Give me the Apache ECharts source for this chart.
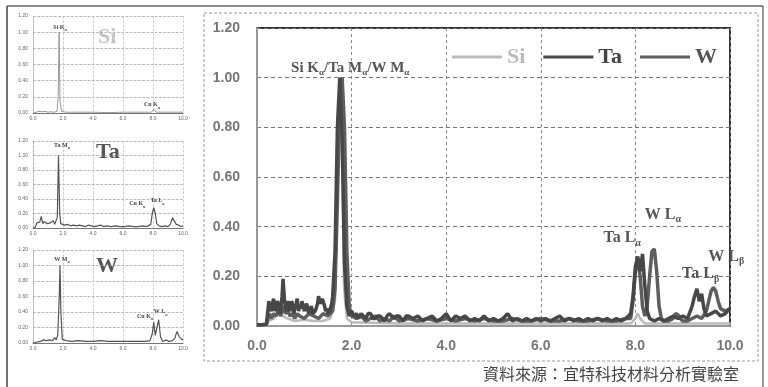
<!DOCTYPE html>
<html>
<head>
<meta charset="utf-8">
<script src="https://cdn.jsdelivr.net/npm/echarts@6/dist/echarts.min.js"></script>
<style>
html,body{margin:0;padding:0;background:#fff;}
#chart{width:768px;height:387px;}
</style>
</head>
<body>
<div id="chart"></div>
<script>
// ---------- Data (energy keV, normalised intensity) ----------
var siSmall = [[0,0],[0.2,0.01],[0.4,0.02],[0.6,0.015],[0.8,0.02],[1.0,0.01],[1.2,0.015],[1.4,0.01],[1.6,0.02],[1.68,0.2],[1.74,1.0],[1.8,0.15],[1.9,0.02],[2.2,0.01],[3,0.01],[4,0.01],[5,0.005],[6,0.01],[7,0.01],[7.9,0.01],[8.05,0.05],[8.2,0.01],[9,0.01],[10,0.01]];

var taSmall = [[0,0],[0.15,0.01],[0.25,0.07],[0.35,0.05],[0.45,0.08],[0.55,0.16],[0.65,0.06],[0.75,0.09],[0.85,0.07],[0.95,0.06],[1.05,0.05],[1.15,0.07],[1.25,0.06],[1.35,0.1],[1.45,0.05],[1.55,0.06],[1.62,0.15],[1.7,1.0],[1.78,0.2],[1.85,0.06],[1.95,0.05],[2.1,0.04],[2.3,0.05],[2.5,0.03],[2.7,0.04],[2.9,0.03],[3.1,0.04],[3.3,0.03],[3.5,0.02],[3.7,0.04],[3.9,0.03],[4.1,0.02],[4.3,0.03],[4.5,0.04],[4.7,0.02],[4.9,0.03],[5.2,0.02],[5.5,0.03],[5.8,0.02],[6.1,0.02],[6.4,0.03],[6.7,0.02],[7.0,0.02],[7.3,0.03],[7.6,0.02],[7.85,0.05],[7.95,0.2],[8.05,0.28],[8.15,0.2],[8.25,0.06],[8.4,0.03],[8.6,0.02],[8.8,0.03],[9.0,0.02],[9.15,0.05],[9.3,0.14],[9.4,0.15],[9.55,0.05],[9.7,0.04],[9.85,0.02],[10,0.03]];

var wSmall = [[0,0],[0.2,0.01],[0.3,0.03],[0.5,0.02],[0.7,0.04],[0.9,0.03],[1.1,0.04],[1.3,0.03],[1.45,0.07],[1.55,0.04],[1.65,0.1],[1.75,0.6],[1.8,1.0],[1.86,0.4],[1.95,0.05],[2.2,0.03],[2.6,0.02],[3.0,0.03],[3.5,0.02],[4.0,0.02],[4.5,0.03],[5.0,0.02],[5.5,0.02],[6.0,0.02],[6.5,0.02],[7.0,0.02],[7.5,0.02],[7.8,0.03],[7.95,0.12],[8.05,0.27],[8.15,0.1],[8.25,0.1],[8.38,0.3],[8.5,0.08],[8.65,0.02],[8.9,0.04],[9.05,0.02],[9.3,0.03],[9.45,0.06],[9.6,0.15],[9.75,0.08],[9.9,0.05],[10,0.04]];

var siMain = [[0,0.005],[0.2,0.006],[0.25,0.02],[0.35,0.03],[0.45,0.05],[0.55,0.04],[0.65,0.03],[0.8,0.02],[1.0,0.025],[1.2,0.02],[1.4,0.02],[1.55,0.03],[1.65,0.1],[1.7,0.6],[1.75,1.0],[1.8,0.7],[1.84,0.15],[1.9,0.03],[2.0,0.015],[3.0,0.01],[4.0,0.01],[5.0,0.01],[6.0,0.01],[7.0,0.01],[7.9,0.01],[8.0,0.03],[8.05,0.05],[8.1,0.03],[8.2,0.01],[9.0,0.01],[10.0,0.01]];

var taMain = [[0,0.005],[0.1,0.005],[0.2,0.008],[0.25,0.10],[0.28,0.07],[0.3,0.06],[0.33,0.09],[0.35,0.11],[0.38,0.06],[0.4,0.07],[0.43,0.10],[0.45,0.09],[0.48,0.05],[0.5,0.06],[0.53,0.12],[0.55,0.19],[0.58,0.11],[0.6,0.08],[0.63,0.06],[0.65,0.10],[0.68,0.08],[0.7,0.06],[0.73,0.10],[0.75,0.09],[0.78,0.05],[0.8,0.07],[0.83,0.09],[0.85,0.11],[0.88,0.06],[0.9,0.08],[0.93,0.07],[0.95,0.10],[0.98,0.08],[1.0,0.06],[1.03,0.08],[1.05,0.09],[1.08,0.06],[1.1,0.05],[1.13,0.07],[1.15,0.08],[1.18,0.05],[1.2,0.05],[1.23,0.06],[1.25,0.07],[1.28,0.09],[1.3,0.12],[1.33,0.10],[1.35,0.09],[1.38,0.11],[1.4,0.11],[1.43,0.08],[1.45,0.06],[1.48,0.07],[1.5,0.05],[1.53,0.06],[1.55,0.07],[1.58,0.09],[1.6,0.12],[1.65,0.30],[1.7,0.80],[1.75,1.0],[1.8,0.75],[1.85,0.25],[1.9,0.08],[1.95,0.04],[2.0,0.06],[2.05,0.04],[2.1,0.05],[2.15,0.03],[2.2,0.05],[2.25,0.04],[2.3,0.03],[2.35,0.05],[2.4,0.05],[2.45,0.03],[2.5,0.03],[2.55,0.04],[2.6,0.04],[2.7,0.02],[2.75,0.04],[2.8,0.05],[2.9,0.03],[2.95,0.04],[3.0,0.04],[3.1,0.02],[3.15,0.04],[3.2,0.04],[3.3,0.03],[3.4,0.04],[3.5,0.02],[3.6,0.03],[3.7,0.04],[3.8,0.02],[3.9,0.03],[4.0,0.05],[4.1,0.02],[4.2,0.04],[4.3,0.03],[4.4,0.04],[4.5,0.02],[4.6,0.03],[4.7,0.02],[4.8,0.04],[4.9,0.02],[5.0,0.03],[5.1,0.02],[5.2,0.03],[5.3,0.05],[5.4,0.02],[5.5,0.03],[5.6,0.02],[5.7,0.03],[5.8,0.02],[5.9,0.03],[6.0,0.02],[6.1,0.03],[6.2,0.02],[6.3,0.03],[6.4,0.04],[6.5,0.02],[6.6,0.03],[6.7,0.02],[6.8,0.03],[6.9,0.02],[7.0,0.03],[7.1,0.02],[7.2,0.03],[7.3,0.02],[7.4,0.03],[7.5,0.02],[7.6,0.03],[7.7,0.02],[7.8,0.03],[7.9,0.05],[7.95,0.12],[8.0,0.24],[8.05,0.28],[8.1,0.22],[8.15,0.29],[8.2,0.16],[8.25,0.06],[8.3,0.03],[8.4,0.02],[8.5,0.03],[8.6,0.02],[8.7,0.03],[8.8,0.04],[8.9,0.03],[9.0,0.04],[9.1,0.03],[9.2,0.08],[9.25,0.12],[9.3,0.15],[9.35,0.10],[9.4,0.13],[9.45,0.07],[9.5,0.04],[9.6,0.05],[9.7,0.06],[9.8,0.04],[9.9,0.05],[10.0,0.07]];

var wMain = [[0,0.005],[0.2,0.006],[0.25,0.05],[0.3,0.03],[0.35,0.05],[0.4,0.04],[0.45,0.06],[0.5,0.04],[0.55,0.08],[0.6,0.05],[0.65,0.06],[0.7,0.04],[0.75,0.05],[0.8,0.03],[0.85,0.05],[0.9,0.04],[1.0,0.03],[1.1,0.05],[1.2,0.04],[1.3,0.03],[1.4,0.05],[1.5,0.04],[1.6,0.06],[1.65,0.15],[1.7,0.5],[1.75,0.9],[1.8,1.0],[1.85,0.8],[1.9,0.3],[1.95,0.08],[2.0,0.04],[2.1,0.03],[2.2,0.04],[2.3,0.02],[2.4,0.03],[2.5,0.04],[2.6,0.02],[2.7,0.03],[2.8,0.02],[2.9,0.04],[3.0,0.02],[3.2,0.03],[3.4,0.02],[3.6,0.03],[3.8,0.02],[4.0,0.03],[4.2,0.02],[4.4,0.03],[4.6,0.02],[4.8,0.03],[5.0,0.02],[5.2,0.02],[5.4,0.03],[5.6,0.02],[5.8,0.02],[6.0,0.03],[6.2,0.02],[6.4,0.02],[6.6,0.03],[6.8,0.02],[7.0,0.02],[7.2,0.03],[7.4,0.02],[7.6,0.02],[7.8,0.03],[7.9,0.03],[7.95,0.10],[8.0,0.22],[8.05,0.27],[8.1,0.20],[8.15,0.08],[8.2,0.04],[8.25,0.08],[8.3,0.20],[8.35,0.30],[8.4,0.31],[8.45,0.22],[8.5,0.08],[8.55,0.03],[8.6,0.02],[8.7,0.02],[8.8,0.03],[8.85,0.05],[8.9,0.045],[8.95,0.03],[9.0,0.02],[9.1,0.02],[9.2,0.03],[9.3,0.04],[9.4,0.03],[9.5,0.06],[9.55,0.10],[9.6,0.14],[9.65,0.155],[9.7,0.14],[9.75,0.10],[9.8,0.07],[9.9,0.06],[10.0,0.07]];

var seriesNames = ['Si','Ta','W'];
var xTicks = [0,2,4,6,8,10];
var yTicks = [0,0.2,0.4,0.6,0.8,1.0,1.2];

// ---------- helpers ----------
var SERIF = 'Liberation Serif';
var SANS = 'Liberation Sans';
function sub(parts){
  return parts.map(function(p){ return '{m|'+p[0]+'}' + (p[1] ? '{s|'+p[1]+'}' : ''); }).join('');
}
function richFor(size, color){
  return {
    m:{fontFamily:SERIF,fontWeight:'bold',fontSize:size,color:color,lineHeight:size+2,verticalAlign:'top'},
    s:{fontFamily:SERIF,fontWeight:'bold',fontSize:Math.round(size*0.6),color:color,verticalAlign:'bottom',lineHeight:Math.round(size*0.6),padding:[Math.round(size*0.85),0,0,0]}
  };
}
function ann(coord, parts, size, color){
  return {coord:coord, symbolSize:0, label:{show:true, position:'inside', formatter:sub(parts), rich:richFor(size,color)}};
}

var chart = echarts.init(document.getElementById('chart'), null, {renderer:'canvas'});

function smallX(i){
  return {gridIndex:i,type:'value',min:0,max:10,interval:2,
    axisLine:{show:true,lineStyle:{color:'#777',width:1}},axisTick:{show:false},
    axisLabel:{fontSize:5,color:'#666',margin:3,formatter:function(v){return v.toFixed(1);}},
    splitLine:{show:true,lineStyle:{color:'#bbb',type:'dashed',width:0.7}}};
}
function smallY(i){
  return {gridIndex:i,type:'value',min:0,max:1.2,interval:0.2,
    axisLine:{show:true,lineStyle:{color:'#aaa',type:'dashed',width:0.7}},axisTick:{show:false},
    axisLabel:{fontSize:5,color:'#666',margin:5,formatter:function(v){return v.toFixed(2);}},
    splitLine:{show:true,lineStyle:{color:'#999',type:'dashed',width:0.7}}};
}

var option = {
  backgroundColor:'#fff',
  animation:false,
  grid:[
    {left:33,top:16,width:150,height:97},
    {left:33,top:141,width:150,height:87},
    {left:33,top:250,width:150,height:93},
    {left:257,top:28,width:473,height:298,show:true,borderColor:'#333',borderWidth:2}
  ],
  legend:{
    left:447, top:41, icon:'rect', itemWidth:50, itemHeight:3, itemGap:18,
    textStyle:{fontFamily:SERIF,fontWeight:'bold',fontSize:22},
    data:[
      {name:'Si',textStyle:{color:'#bbb'}},
      {name:'Ta',textStyle:{color:'#444'}},
      {name:'W',textStyle:{color:'#555'}}
    ]
  },
  xAxis:[smallX(0),smallX(1),smallX(2),
    {gridIndex:3,type:'value',min:0,max:10,interval:2,
     axisLine:{show:true,lineStyle:{color:'#999',width:2}},axisTick:{show:false},
     axisLabel:{fontFamily:SANS,fontWeight:'bold',fontSize:14,color:'#777',margin:13,formatter:function(v){return v.toFixed(1);}},
     splitLine:{show:true,lineStyle:{color:'#888',type:[3,3],width:1}}}
  ],
  yAxis:[smallY(0),smallY(1),smallY(2),
    {gridIndex:3,type:'value',min:0,max:1.2,interval:0.2,
     axisLine:{show:true,lineStyle:{color:'#999',width:2}},axisTick:{show:false},
     axisLabel:{fontFamily:SANS,fontWeight:'bold',fontSize:14,color:'#777',margin:17,formatter:function(v){return v.toFixed(2);}},
     splitLine:{show:true,lineStyle:{color:'#777',type:[4,3],width:1}}}
  ],
  series:[
    {name:'Si small',type:'line',xAxisIndex:0,yAxisIndex:0,data:siSmall,showSymbol:false,color:'#999',lineStyle:{width:1,color:'#999'},
      markPoint:{silent:true,data:[ann([1.8,1.05],[['Si K','α']],6,'#444'),ann([7.93,0.09],[['Cu K','α']],6,'#444')]}},
    {name:'Ta small',type:'line',xAxisIndex:1,yAxisIndex:1,data:taSmall,showSymbol:false,color:'#555',lineStyle:{width:1.2,color:'#555'},
      markPoint:{silent:true,data:[ann([1.93,1.13],[['Ta M','α']],6,'#444'),ann([6.95,0.32],[['Cu K','α']],6,'#444'),ann([8.3,0.36],[['Ta L','α']],6,'#444')]}},
    {name:'W small',type:'line',xAxisIndex:2,yAxisIndex:2,data:wSmall,showSymbol:false,color:'#555',lineStyle:{width:1.2,color:'#555'},
      markPoint:{silent:true,data:[ann([1.93,1.07],[['W M','α']],6,'#444'),ann([7.47,0.33],[['Cu K','α']],6,'#444'),ann([8.5,0.39],[['W L','α']],6,'#444')]}},
    {name:'Si',type:'line',xAxisIndex:3,yAxisIndex:3,data:siMain,showSymbol:false,color:'#bbb',lineStyle:{width:2.5,color:'#bbb'},z:3},
    {name:'W',type:'line',xAxisIndex:3,yAxisIndex:3,data:wMain,showSymbol:false,color:'#5e5e5e',lineStyle:{width:3.5,color:'#5e5e5e'},z:4,
      markPoint:{silent:true,data:[ann([8.58,0.445],[['W L','α']],16,'#555'),ann([9.92,0.275],[['W L','β']],16,'#555')]}},
    {name:'Ta',type:'line',xAxisIndex:3,yAxisIndex:3,data:taMain,showSymbol:false,color:'#474747',lineStyle:{width:3.5,color:'#474747'},z:5,
      markPoint:{silent:true,data:[ann([1.97,1.035],[['Si K','α'],['/Ta M','α'],['/W M','α']],15,'#555'),ann([7.72,0.35],[['Ta L','α']],16,'#555'),ann([9.38,0.205],[['Ta L','β']],16,'#555')]}}
  ],
  graphic:[
    {type:'line',shape:{x1:7,y1:6,x2:763,y2:6},style:{stroke:'#666',lineWidth:1.5},silent:true},
    {type:'line',shape:{x1:7,y1:6,x2:7,y2:387},style:{stroke:'#444',lineWidth:1.5},silent:true},
    {type:'line',shape:{x1:763,y1:6,x2:763,y2:387},style:{stroke:'#555',lineWidth:1.2},silent:true},
    {type:'rect',shape:{x:204,y:13,width:554,height:348},style:{fill:'transparent',stroke:'#999',lineWidth:1,lineDash:[3,2]},silent:true},
    {type:'text',left:98,top:26,style:{text:'Si',font:'bold 22px "Liberation Serif"',fill:'#c4c4c4'},silent:true},
    {type:'text',left:96,top:141,style:{text:'Ta',font:'bold 22px "Liberation Serif"',fill:'#555'},silent:true},
    {type:'text',left:96,top:255,style:{text:'W',font:'bold 22px "Liberation Serif"',fill:'#555'},silent:true},
    {type:'text',left:483,top:366,style:{text:'資料來源：宜特科技材料分析實驗室',font:'16px "Noto Sans CJK TC"',fill:'#444'},silent:true}
  ]
};
chart.setOption(option);
</script>
</body>
</html>
